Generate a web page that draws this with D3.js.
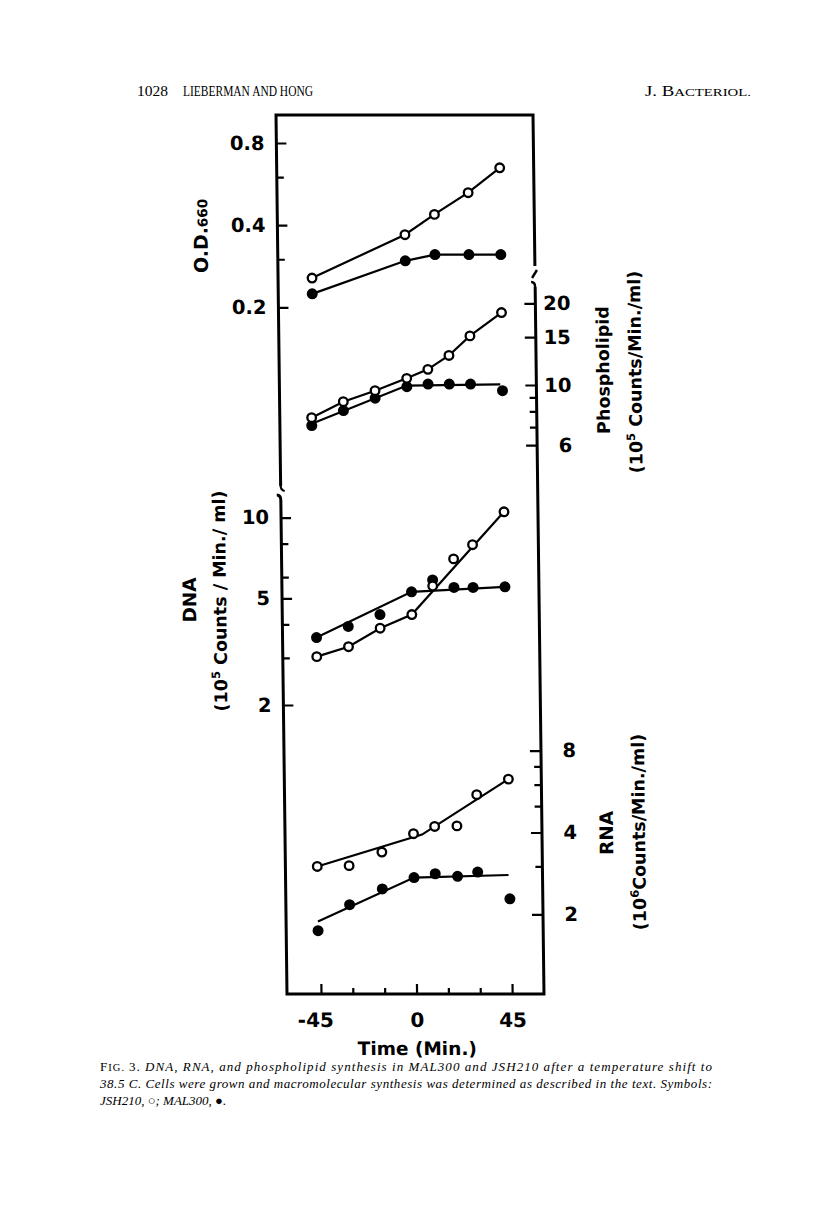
<!DOCTYPE html>
<html><head><meta charset="utf-8">
<script src="https://cdn.jsdelivr.net/npm/d3@7"></script>
<style>body{margin:0;background:#fff} svg{display:block}</style>
</head><body>
<svg id="c" width="816" height="1220"></svg>
<script>
// ---------------- data ----------------
const xMajorTicks = [-45, 0, 45];
const xMinorTicks = [-30, -15, 15, 30];

const odMajor = [0.8, 0.4, 0.2];
const odMinor = [0.6, 0.3];
const plMajor = [20, 15, 10, 6];
const plMinor = [9, 8, 7];
const dnaMajor = [10, 5, 2];
const dnaMinor = [8, 6, 4, 3];
const rnaMajor = [8, 4, 2];
const rnaMinor = [7, 6, 5, 3];

// O.D.660
const odTime   = [-45, -1, 13, 29, 44];
const odOpen   = [0.256, 0.369, 0.438, 0.526, 0.649];   // JSH210
const odFilled = [0.224, 0.296, 0.312, 0.312, 0.312];   // MAL300

// Phospholipid (10^5 counts/min/ml)
const plTime   = [-46, -31, -16, -1, 9, 19, 29, 44];
const plOpen   = [7.58, 8.68, 9.53, 10.58, 11.42, 12.85, 15.17, 18.49];
const plFilled = [7.09, 8.05, 8.94, 9.86, 10.08, 10.08, 10.08, 9.53];
const plFilledFitTime = [-46, -1, 43];
const plFilledFit     = [7.2, 9.95, 10.05];

// DNA (10^5 counts/min/ml)
const dnaTime   = [-45, -30, -15, 0, 10, 20, 29, 44];
const dnaOpen   = [3.03, 3.30, 3.87, 4.35, 5.56, 7.02, 7.93, 10.52];
const dnaFilled = [3.57, 3.93, 4.35, 5.29, 5.86, 5.49, 5.49, 5.52];
const dnaOpenFitTime   = [-45, -30, -15, 0, 44];
const dnaOpenFit       = [3.03, 3.30, 3.87, 4.35, 10.52];
const dnaFilledFitTime = [-45, 0, 44];
const dnaFilledFit     = [3.57, 5.29, 5.52];

// RNA (10^6 counts/min/ml)
const rnaTime   = [-46, -31, -15.5, -0.5, 9.5, 20, 29.5, 44.5];
const rnaOpen   = [3.00, 3.02, 3.39, 3.96, 4.21, 4.23, 5.51, 6.29];
const rnaFilled = [1.74, 2.17, 2.48, 2.73, 2.82, 2.76, 2.86, 2.28];
const rnaOpenFitTime   = [-46, 3.5, 44.5];
const rnaOpenFit       = [3.00, 3.93, 6.29];
const rnaFilledFitTime = [-46, -0.5, 44];
const rnaFilledFit     = [1.88, 2.73, 2.79];

// ---------------- layout ----------------
const L = 287, R = 544, T = 115, B = 994;
const shear = 0.0125;
const FONT = "'DejaVu Sans', sans-serif";
const SERIF = "'Liberation Serif', 'DejaVu Serif', serif";

const svg = d3.select('#c');
const g = svg.append('g')
  .attr('transform', `translate(${-B*shear},0) skewX(${Math.atan(shear)*180/Math.PI})`);

const x = d3.scaleLinear().domain([-61, 60]).range([L, R]);
const yOD  = d3.scaleLog().domain([0.2, 0.8]).range([307.3, 143]);
const yPL  = d3.scaleLog().domain([10, 20]).range([385, 303.3]);
const yDNA = d3.scaleLog().domain([2, 10]).range([705, 517.7]);
const yRNA = d3.scaleLog().domain([2, 8]).range([914.3, 750.7]);

// frame with axis breaks
const frame = g.append('g').attr('fill', 'none').attr('stroke', '#000').attr('stroke-width', 3);
frame.append('path').attr('d', `M${L},486 V${T} H${R} V266`);
frame.append('path').attr('d', `M${L},486 q0,4 4,5`).attr('stroke-width', 2.2);
frame.append('path').attr('d', `M${L-4},495 q4,0 4,5 V${B} H${R} V287`);
frame.append('path').attr('d', `M${R-3},278 L${R+2},270`).attr('stroke-width', 2.4);
frame.append('path').attr('d', `M${R-4},282 q4,0 4,5`).attr('stroke-width', 2.4);

function styleAxis(sel) {
  sel.select('.domain').remove();
  sel.selectAll('.tick line').attr('stroke', '#000').attr('stroke-width', 2.2);
  sel.selectAll('.tick text').attr('fill', '#000').attr('font-family', FONT)
     .attr('font-weight', 'bold').attr('font-size', 19.5);
}

function leftAxis(scale, major, minor) {
  g.append('g').attr('transform', `translate(${L},0)`)
    .call(d3.axisLeft(scale).tickValues(minor).tickSizeInner(-7).tickSizeOuter(0).tickFormat(''))
    .call(styleAxis);
  g.append('g').attr('transform', `translate(${L},0)`)
    .call(d3.axisLeft(scale).tickValues(major).tickSizeInner(-10).tickSizeOuter(0)
      .tickPadding(12).tickFormat(d => String(d)))
    .call(styleAxis);
}
function rightAxis(scale, major, minor) {
  g.append('g').attr('transform', `translate(${R},0)`)
    .call(d3.axisRight(scale).tickValues(minor).tickSizeInner(-7).tickSizeOuter(0).tickFormat(''))
    .call(styleAxis);
  const a = g.append('g').attr('transform', `translate(${R},0)`)
    .call(d3.axisRight(scale).tickValues(major).tickSizeInner(-11).tickSizeOuter(0)
      .tickPadding(35).tickFormat(d => String(d)))
    .call(styleAxis);
  a.selectAll('.tick text').attr('text-anchor', 'end');
}
leftAxis(yOD, odMajor, odMinor);
rightAxis(yPL, plMajor, plMinor);
leftAxis(yDNA, dnaMajor, dnaMinor);
rightAxis(yRNA, rnaMajor, rnaMinor);

// x axis (ticks pointing inward)
g.append('g').attr('transform', `translate(0,${B})`)
  .call(d3.axisBottom(x).tickValues(xMinorTicks).tickSizeInner(-6).tickSizeOuter(0).tickFormat(''))
  .call(styleAxis);
const xa = g.append('g').attr('transform', `translate(0,${B})`)
  .call(d3.axisBottom(x).tickValues(xMajorTicks).tickSizeInner(-10).tickSizeOuter(0)
    .tickPadding(19).tickFormat(d => String(d)))
  .call(styleAxis);
xa.selectAll('.tick text').attr('font-size', 20).attr('dx', d => d < 0 ? '-0.3em' : 0);

// axis titles
function vtitle(xp, yp, parts) {
  const t = g.append('text')
    .attr('transform', `translate(${xp},${yp}) rotate(-90)`)
    .attr('text-anchor', 'middle').attr('font-family', FONT).attr('font-weight', 'bold')
    .attr('font-size', 17.5).attr('fill', '#000');
  parts.forEach(p => {
    const s = t.append('tspan').text(p.t);
    if (p.fs) s.attr('font-size', p.fs);
    if (p.dy) s.attr('dy', p.dy);
  });
  return t;
}
vtitle(217, 236, [{t: 'O.D.', fs: 19}, {t: '660', fs: 13.5}]);
vtitle(617, 370, [{t: 'Phospholipid'}]);
vtitle(649, 372, [{t: '(10'}, {t: '5', fs: 11.5, dy: -7}, {t: ' Counts/Min./ml)', dy: 7}]);
vtitle(201, 600, [{t: 'DNA', fs: 18.5}]);
vtitle(231, 601, [{t: '(10'}, {t: '5', fs: 11.5, dy: -7}, {t: ' Counts / Min./ ml)', dy: 7}]);
vtitle(615, 833, [{t: 'RNA', fs: 18.5}]);
vtitle(647, 832, [{t: '(10'}, {t: '6', fs: 11.5, dy: -7}, {t: 'Counts/Min./ml)', dy: 7}]);

g.append('text').attr('x', x(0)).attr('y', 1055).attr('text-anchor', 'middle')
  .attr('font-family', FONT).attr('font-weight', 'bold').attr('font-size', 18.5).attr('fill', '#000')
  .text('Time (Min.)');

// ---------------- data marks ----------------
function series(scale, tOpen, vOpen, tFill, vFill, fitOpenT, fitOpenV, fitFillT, fitFillV) {
  const line = d3.line().x(d => x(d[0])).y(d => scale(d[1]));
  const lines = g.append('g').attr('fill', 'none').attr('stroke', '#000').attr('stroke-width', 2.2);
  lines.append('path').attr('d', line(d3.zip(fitOpenT, fitOpenV)));
  lines.append('path').attr('d', line(d3.zip(fitFillT, fitFillV)));
  g.append('g').selectAll('circle').data(d3.zip(tFill, vFill)).join('circle')
    .attr('cx', d => x(d[0])).attr('cy', d => scale(d[1])).attr('r', 5.5).attr('fill', '#000');
  g.append('g').selectAll('circle').data(d3.zip(tOpen, vOpen)).join('circle')
    .attr('cx', d => x(d[0])).attr('cy', d => scale(d[1])).attr('r', 4.3)
    .attr('fill', '#fff').attr('stroke', '#000').attr('stroke-width', 2.3);
}
series(yOD, odTime, odOpen, odTime, odFilled, odTime, odOpen, odTime, odFilled);
series(yPL, plTime, plOpen, plTime, plFilled, plTime, plOpen, plFilledFitTime, plFilledFit);
series(yDNA, dnaTime, dnaOpen, dnaTime, dnaFilled, dnaOpenFitTime, dnaOpenFit, dnaFilledFitTime, dnaFilledFit);
series(yRNA, rnaTime, rnaOpen, rnaTime, rnaFilled, rnaOpenFitTime, rnaOpenFit, rnaFilledFitTime, rnaFilledFit);

// ---------------- page header and caption ----------------
const hdr = svg.append('g').attr('font-family', SERIF).attr('fill', '#000');
hdr.append('text').attr('x', 137).attr('y', 96).attr('font-size', 14).attr('textLength', 31)
  .attr('lengthAdjust', 'spacingAndGlyphs').text('1028');
hdr.append('text').attr('x', 183).attr('y', 96).attr('font-size', 14).attr('textLength', 130)
  .attr('lengthAdjust', 'spacingAndGlyphs').text('LIEBERMAN AND HONG');
const jb = hdr.append('text').attr('x', 645).attr('y', 96).attr('font-size', 14)
  .attr('textLength', 106).attr('lengthAdjust', 'spacingAndGlyphs');
jb.append('tspan').text('J. B');
jb.append('tspan').attr('font-size', 11).text('ACTERIOL.');

const cap = svg.append('g').attr('font-family', SERIF).attr('font-size', 13).attr('fill', '#000');
const c1 = cap.append('text').attr('x', 100).attr('y', 1071).attr('textLength', 612).attr('lengthAdjust', 'spacing');
c1.append('tspan').text('F');
c1.append('tspan').attr('font-size', 10.5).text('IG. ');
c1.append('tspan').text('3. ');
c1.append('tspan').attr('font-style', 'italic')
  .text('DNA, RNA, and phospholipid synthesis in MAL300 and JSH210 after a temperature shift to');
cap.append('text').attr('x', 100).attr('y', 1088).attr('textLength', 612).attr('lengthAdjust', 'spacing')
  .attr('font-style', 'italic')
  .text('38.5 C. Cells were grown and macromolecular synthesis was determined as described in the text. Symbols:');
cap.append('text').attr('x', 100).attr('y', 1105).attr('font-style', 'italic')
  .text('JSH210, \u25CB; MAL300, \u25CF.');
</script>
</body></html>
